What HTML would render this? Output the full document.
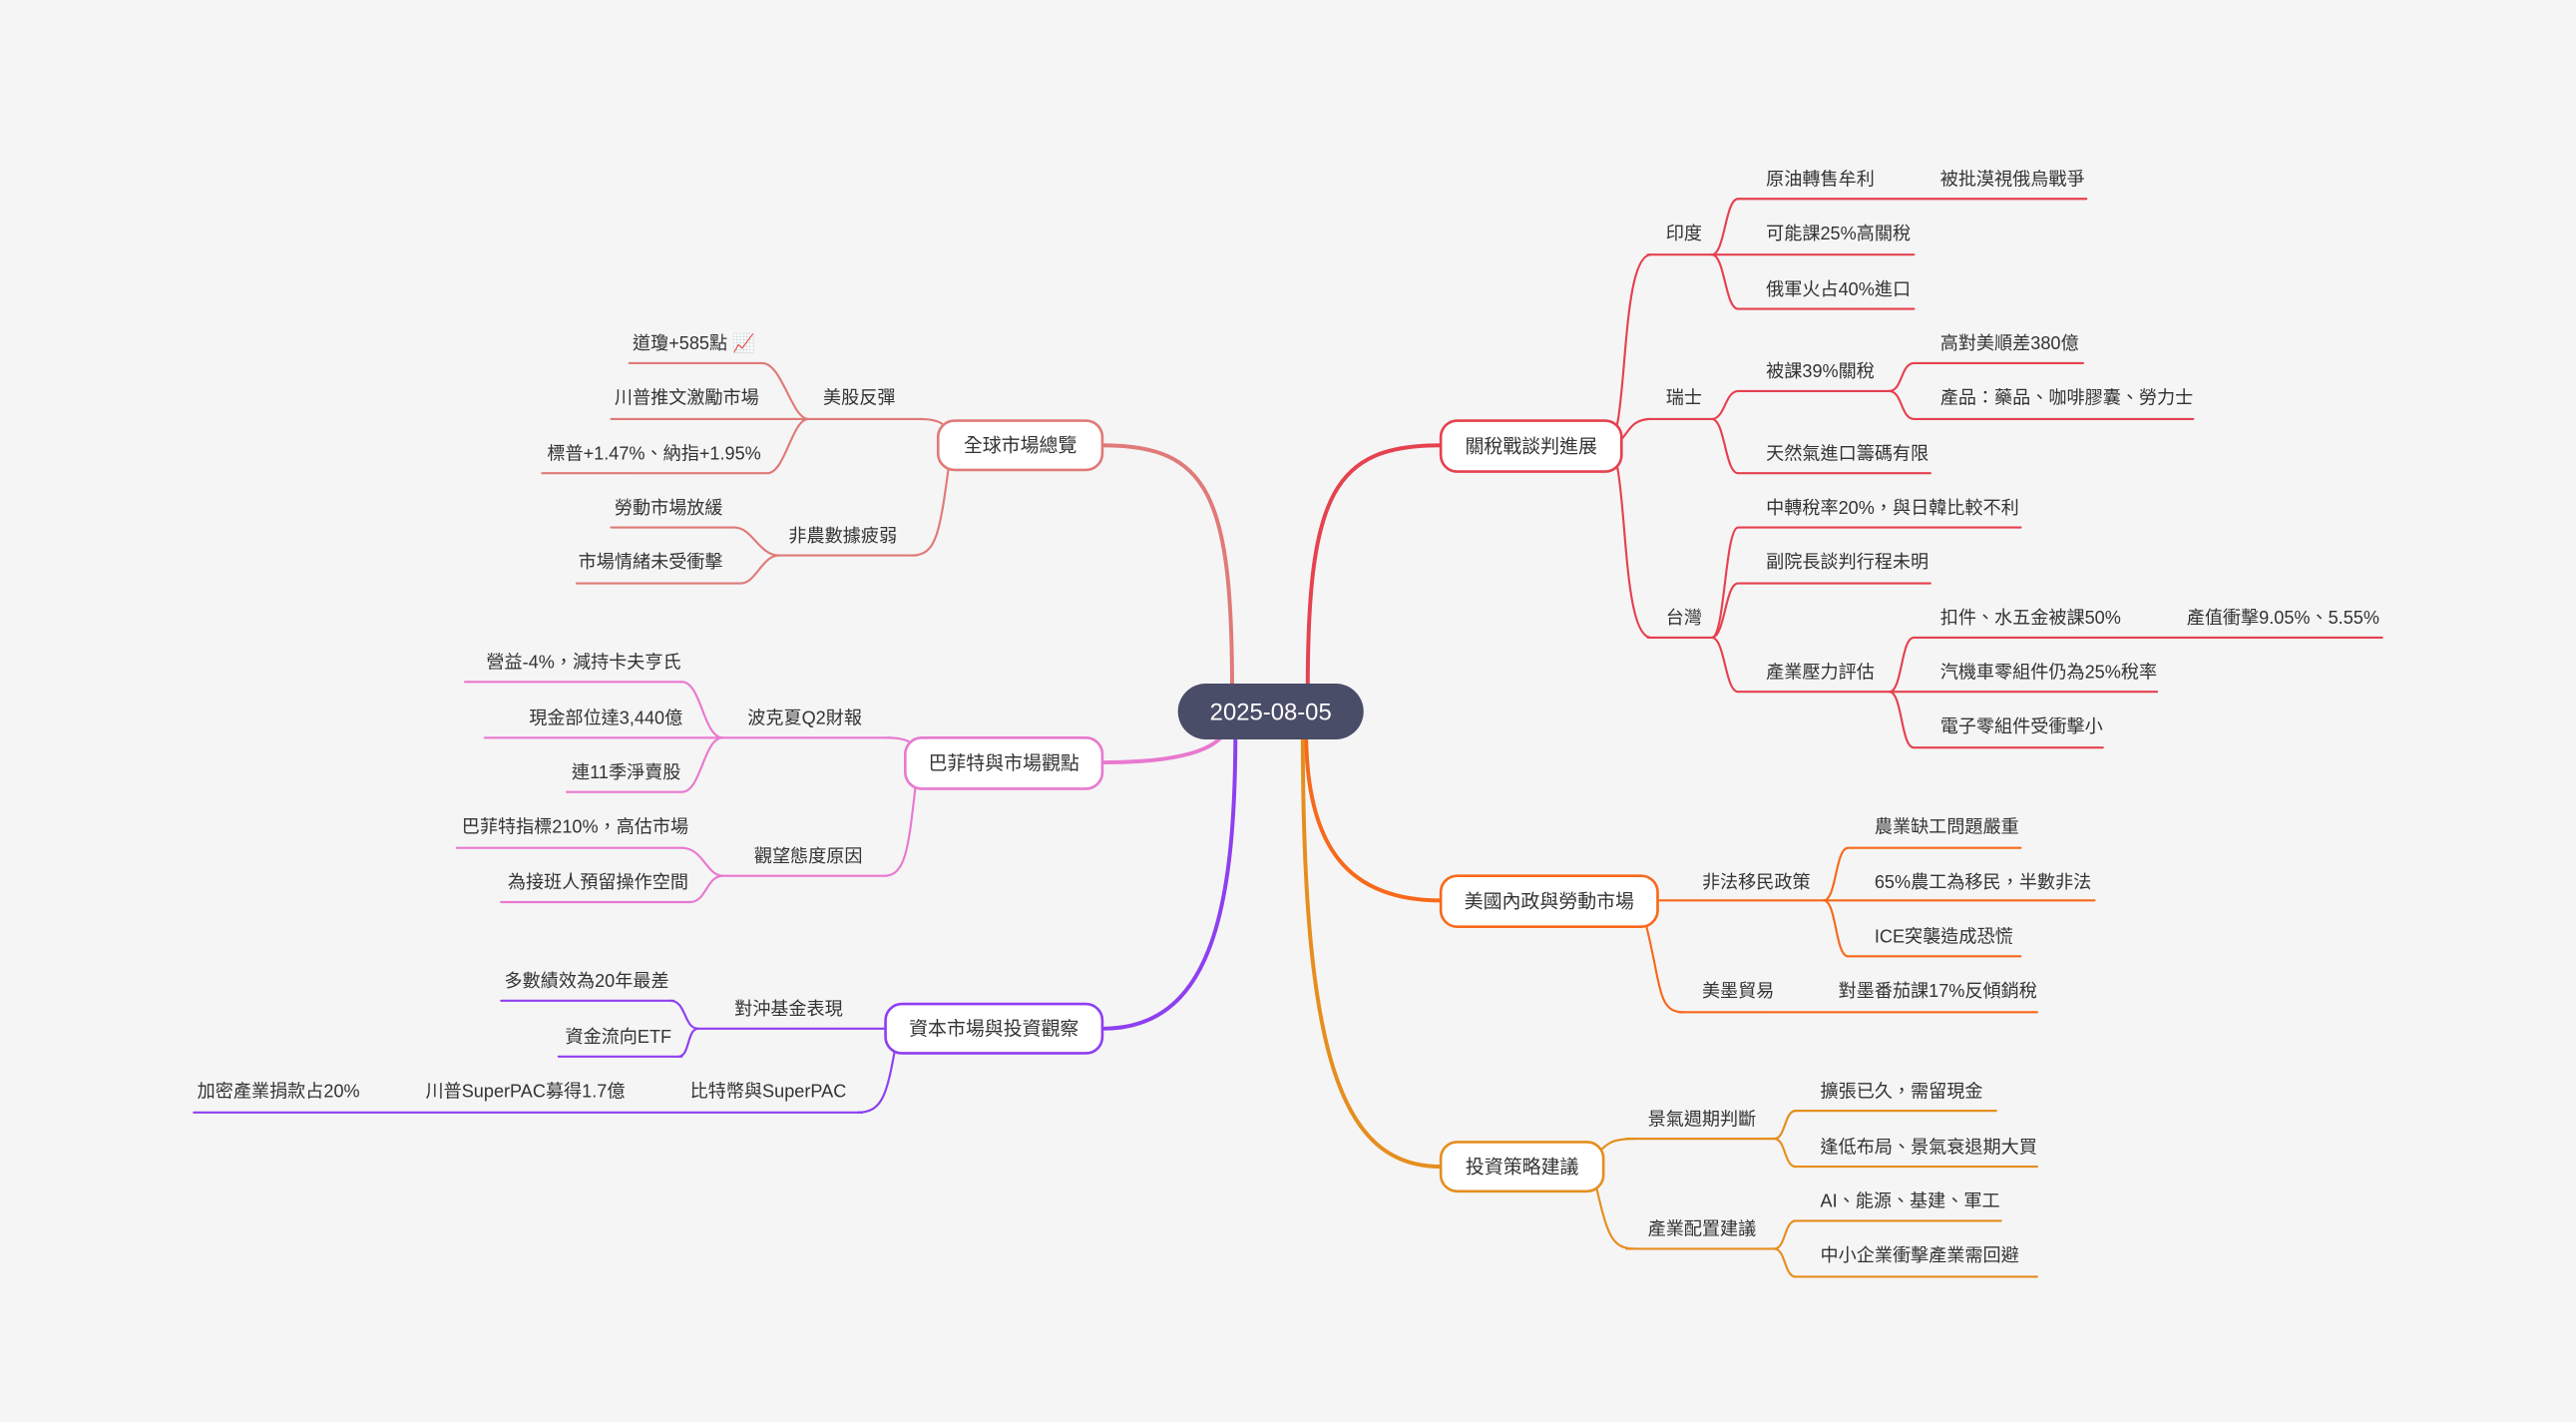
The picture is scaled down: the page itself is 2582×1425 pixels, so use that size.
<!DOCTYPE html>
<html><head><meta charset="utf-8"><style>
html,body{margin:0;padding:0;background:#f5f5f5;}
svg{display:block;}
text{font-family:"Liberation Sans","Noto Sans CJK TC",sans-serif;font-size:11px;fill:#333;dominant-baseline:central;}
.n{font-size:11.5px;text-anchor:middle;}
path,line{fill:none;stroke-linecap:round;}
</style></head><body>
<svg width="2582" height="1425" viewBox="0 0 1568 865.4" xmlns="http://www.w3.org/2000/svg">
<rect x="0" y="0" width="1568" height="866" fill="#f5f5f5"/>
<g stroke-width="2.4">
<path d="M796,420 C796,300 812,271 877,271" stroke="#e6414f"/>
<path d="M750,420 C750,300 735,271 671,271" stroke="#e07a78"/>
<path d="M746,445 C738,460 705,464 671,464" stroke="#e879cf"/>
<path d="M752,445 C752,560 735,626 671,626" stroke="#8e3ff0"/>
<path d="M795,445 C795,515 820,548 877,548" stroke="#f7691b"/>
<path d="M793,445 C793,640 815,710 877,710" stroke="#e58e1f"/>
</g>
<g stroke="#e6414f" stroke-width="1.3">
<path d="M978,271 C992,271 985,155 1005,155"/><line x1="1003" y1="155" x2="1042" y2="155"/>
<path d="M978,271 C992,271 988,255 1005,255"/><line x1="1003" y1="255" x2="1042" y2="255"/>
<path d="M978,271 C992,271 985,388 1005,388"/><line x1="1003" y1="388" x2="1042" y2="388"/>
<path d="M1042,155 C1050,155 1050,121 1058,121"/><line x1="1058" y1="121" x2="1270" y2="121"/>
<line x1="1042" y1="155" x2="1165" y2="155"/>
<path d="M1042,155 C1050,155 1050,188 1058,188"/><line x1="1058" y1="188" x2="1165" y2="188"/>
<path d="M1042,255 C1050,255 1050,238 1058,238"/><line x1="1058" y1="238" x2="1150" y2="238"/>
<path d="M1042,255 C1050,255 1050,288 1058,288"/><line x1="1058" y1="288" x2="1175" y2="288"/>
<path d="M1150,238 C1158,238 1157,221 1165,221"/><line x1="1165" y1="221" x2="1268" y2="221"/>
<path d="M1150,238 C1158,238 1157,255 1165,255"/><line x1="1165" y1="255" x2="1335" y2="255"/>
<path d="M1042,388 C1050,388 1050,321 1058,321"/><line x1="1058" y1="321" x2="1230" y2="321"/>
<path d="M1042,388 C1050,388 1050,355 1058,355"/><line x1="1058" y1="355" x2="1175" y2="355"/>
<path d="M1042,388 C1050,388 1050,421 1058,421"/><line x1="1058" y1="421" x2="1150" y2="421"/>
<path d="M1150,421 C1158,421 1157,388 1165,388"/><line x1="1165" y1="388" x2="1450" y2="388"/>
<line x1="1150" y1="421" x2="1313" y2="421"/>
<path d="M1150,421 C1158,421 1157,455 1165,455"/><line x1="1165" y1="455" x2="1280" y2="455"/>
</g>
<g stroke="#f7691b" stroke-width="1.3">
<line x1="1000" y1="548" x2="1110" y2="548"/>
<path d="M1000,555 C1012,600 1008,616 1025,616"/><line x1="1022" y1="616" x2="1240" y2="616"/>
<path d="M1110,548 C1118,548 1117,516 1125,516"/><line x1="1125" y1="516" x2="1230" y2="516"/>
<line x1="1110" y1="548" x2="1275" y2="548"/>
<path d="M1110,548 C1118,548 1117,582 1125,582"/><line x1="1125" y1="582" x2="1230" y2="582"/>
</g>
<g stroke="#e58e1f" stroke-width="1.3">
<path d="M970,705 C978,695 982,693 995,693"/><line x1="990" y1="693" x2="1080" y2="693"/>
<path d="M970,715 C978,750 980,760 995,760"/><line x1="990" y1="760" x2="1080" y2="760"/>
<path d="M1080,693 C1087,693 1086,676 1093,676"/><line x1="1092" y1="676" x2="1215" y2="676"/>
<path d="M1080,693 C1087,693 1086,710 1093,710"/><line x1="1092" y1="710" x2="1240" y2="710"/>
<path d="M1080,760 C1087,760 1086,743 1093,743"/><line x1="1092" y1="743" x2="1218" y2="743"/>
<path d="M1080,760 C1087,760 1086,777 1093,777"/><line x1="1092" y1="777" x2="1240" y2="777"/>
</g>
<g stroke="#e07a78" stroke-width="1.3">
<path d="M580,265 C575,258 572,255 560,255"/><line x1="372" y1="255" x2="562" y2="255"/>
<path d="M578,280 C572,325 570,338 555,338"/><line x1="474" y1="338" x2="558" y2="338"/>
<path d="M492,255 C482,255 476,221 464,221"/><line x1="383" y1="221" x2="464" y2="221"/>
<path d="M492,255 C482,255 478,288 467,288"/><line x1="330" y1="288" x2="467" y2="288"/>
<path d="M474,338 C462,338 458,321 447,321"/><line x1="372" y1="321" x2="447" y2="321"/>
<path d="M474,338 C464,338 460,355 451,355"/><line x1="351" y1="355" x2="451" y2="355"/>
</g>
<g stroke="#e879cf" stroke-width="1.3">
<path d="M560,458 C556,452 552,449 540,449"/><line x1="295" y1="449" x2="542" y2="449"/>
<path d="M558,472 C553,515 552,533 538,533"/><line x1="440" y1="533" x2="540" y2="533"/>
<path d="M440,449 C428,449 427,415 415,415"/><line x1="283" y1="415" x2="415" y2="415"/>
<path d="M440,449 C428,449 427,482 415,482"/><line x1="345" y1="482" x2="415" y2="482"/>
<path d="M440,533 C430,533 428,516 415,516"/><line x1="278" y1="516" x2="415" y2="516"/>
<path d="M440,533 C430,533 430,549 420,549"/><line x1="305" y1="549" x2="420" y2="549"/>
</g>
<g stroke="#8e3ff0" stroke-width="1.3">
<line x1="425" y1="626" x2="545" y2="626"/>
<path d="M546,632 C540,665 538,677 522,677"/><line x1="118" y1="677" x2="525" y2="677"/>
<path d="M425,626 C416,626 418,609 408,609"/><line x1="305" y1="609" x2="410" y2="609"/>
<path d="M425,626 C418,626 420,643 413,643"/><line x1="340" y1="643" x2="415" y2="643"/>
</g>
<rect x="717" y="416" width="113" height="34" rx="17" fill="#4a4d68"/>
<text class="n" x="773.5" y="433.5" style="font-size:14.5px;fill:#fff">2025-08-05</text>
<rect x="877" y="256" width="110" height="31" rx="10" fill="#fff" stroke="#e6414f" stroke-width="1.6"/>
<text class="n" x="932" y="272">關稅戰談判進展</text>
<rect x="877" y="533" width="132" height="31" rx="10" fill="#fff" stroke="#f7691b" stroke-width="1.6"/>
<text class="n" x="943" y="549">美國內政與勞動市場</text>
<rect x="877" y="695" width="99" height="30" rx="10" fill="#fff" stroke="#e58e1f" stroke-width="1.6"/>
<text class="n" x="926.5" y="710.5">投資策略建議</text>
<rect x="571" y="256" width="100" height="30" rx="10" fill="#fff" stroke="#e07a78" stroke-width="1.6"/>
<text class="n" x="621" y="271.5">全球市場總覽</text>
<rect x="551" y="449" width="120" height="31" rx="10" fill="#fff" stroke="#e879cf" stroke-width="1.6"/>
<text class="n" x="611" y="465">巴菲特與市場觀點</text>
<rect x="539" y="611" width="132" height="30" rx="10" fill="#fff" stroke="#8e3ff0" stroke-width="1.6"/>
<text class="n" x="605" y="626.5">資本市場與投資觀察</text>
<g transform="translate(0,1)">
<text x="1014" y="141">印度</text>
<text x="1014" y="241">瑞士</text>
<text x="1014" y="375">台灣</text>
<text x="1075" y="108">原油轉售牟利</text>
<text x="1181" y="108">被批漠視俄烏戰爭</text>
<text x="1075" y="141">可能課25%高關稅</text>
<text x="1075" y="175">俄軍火占40%進口</text>
<text x="1075" y="225">被課39%關稅</text>
<text x="1181" y="208">高對美順差380億</text>
<text x="1181" y="241">產品：藥品、咖啡膠囊、勞力士</text>
<text x="1075" y="275">天然氣進口籌碼有限</text>
<text x="1075" y="308">中轉稅率20%，與日韓比較不利</text>
<text x="1075" y="341">副院長談判行程未明</text>
<text x="1075" y="408">產業壓力評估</text>
<text x="1181" y="375">扣件、水五金被課50%</text>
<text x="1331" y="375">產值衝擊9.05%、5.55%</text>
<text x="1181" y="408">汽機車零組件仍為25%稅率</text>
<text x="1181" y="441">電子零組件受衝擊小</text>
<text x="1036" y="536">非法移民政策</text>
<text x="1036" y="602">美墨貿易</text>
<text x="1141" y="502">農業缺工問題嚴重</text>
<text x="1141" y="536">65%農工為移民，半數非法</text>
<text x="1141" y="569">ICE突襲造成恐慌</text>
<text x="1119" y="602">對墨番茄課17%反傾銷稅</text>
<text x="1003" y="680">景氣週期判斷</text>
<text x="1003" y="747">產業配置建議</text>
<text x="1108" y="663">擴張已久，需留現金</text>
<text x="1108" y="697">逢低布局、景氣衰退期大買</text>
<text x="1108" y="730">AI、能源、基建、軍工</text>
<text x="1108" y="763">中小企業衝擊產業需回避</text>
<text x="501" y="241">美股反彈</text>
<text x="480" y="325">非農數據疲弱</text>
<text x="385" y="208">道瓊+585點 <tspan style="fill:#e0505a">📈</tspan></text>
<text x="374" y="241">川普推文激勵市場</text>
<text x="333" y="275">標普+1.47%、納指+1.95%</text>
<text x="374" y="308">勞動市場放緩</text>
<text x="352" y="341">市場情緒未受衝擊</text>
<text x="455" y="436">波克夏Q2財報</text>
<text x="459" y="520">觀望態度原因</text>
<text x="296" y="402">營益-4%，減持卡夫亨氏</text>
<text x="322" y="436">現金部位達3,440億</text>
<text x="348" y="469">連11季淨賣股</text>
<text x="281" y="502">巴菲特指標210%，高估市場</text>
<text x="309" y="536">為接班人預留操作空間</text>
<text x="447" y="613">對沖基金表現</text>
<text x="420" y="663">比特幣與SuperPAC</text>
<text x="307" y="596">多數績效為20年最差</text>
<text x="344" y="630">資金流向ETF</text>
<text x="120" y="663">加密產業捐款占20%</text>
<text x="259" y="663">川普SuperPAC募得1.7億</text>
</g>
</svg>
</body></html>
